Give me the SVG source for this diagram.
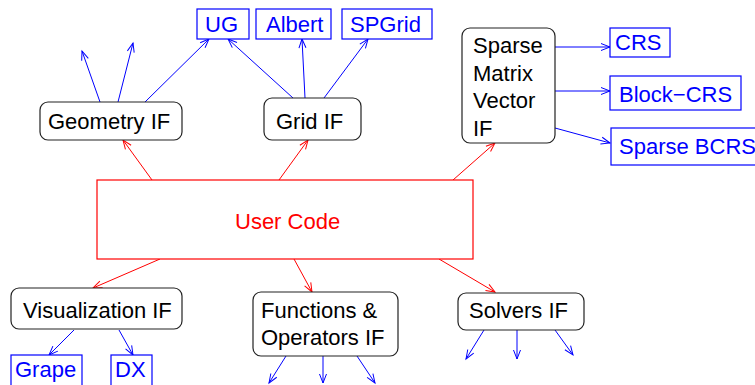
<svg xmlns="http://www.w3.org/2000/svg" width="755" height="385" viewBox="0 0 755 385">
<defs>
<marker id="ab" markerUnits="userSpaceOnUse" markerWidth="12" markerHeight="10" refX="9" refY="3.5" orient="auto" overflow="visible"><path d="M0,0 L9,3.5 L0,7" fill="none" stroke="#0000ff" stroke-width="1"/></marker>
<marker id="ar" markerUnits="userSpaceOnUse" markerWidth="12" markerHeight="10" refX="9" refY="3.5" orient="auto" overflow="visible"><path d="M0,0 L9,3.5 L0,7" fill="none" stroke="#ff0000" stroke-width="1"/></marker>
<style>
text{font-family:"Liberation Sans",Arial,sans-serif;font-size:22px}
.n{fill:#fff;stroke:#222;stroke-width:1.2}
.b{fill:#fff;stroke:#0000ff;stroke-width:1.2}
.bt{fill:#0000ff}
.k{fill:#000}
.bl{stroke:#0000ff;stroke-width:1;fill:none;marker-end:url(#ab)}
.rl{stroke:#ff0000;stroke-width:1;fill:none;marker-end:url(#ar)}
</style>
</defs>
<g id="connectors">
<line class="rl" x1="152" y1="180" x2="123" y2="140"/>
<line class="rl" x1="279" y1="180" x2="308" y2="140"/>
<line class="rl" x1="453" y1="180" x2="495" y2="143"/>
<line class="rl" x1="160" y1="259" x2="93" y2="288"/>
<line class="rl" x1="294" y1="259" x2="312" y2="292"/>
<line class="rl" x1="439" y1="259" x2="495" y2="292"/>
<line class="bl" x1="100" y1="102" x2="82" y2="51"/>
<line class="bl" x1="118" y1="102" x2="133" y2="43"/>
<line class="bl" x1="145" y1="102" x2="209" y2="39"/>
<line class="bl" x1="293" y1="98" x2="228" y2="39"/>
<line class="bl" x1="305" y1="98" x2="302" y2="39"/>
<line class="bl" x1="324" y1="98" x2="368" y2="39"/>
<line class="bl" x1="555" y1="47" x2="610" y2="47"/>
<line class="bl" x1="555" y1="91" x2="610" y2="91"/>
<line class="bl" x1="555" y1="128" x2="610" y2="143"/>
<line class="bl" x1="74" y1="330" x2="49" y2="355"/>
<line class="bl" x1="119" y1="330" x2="133" y2="355"/>
<line class="bl" x1="286" y1="356" x2="269" y2="383"/>
<line class="bl" x1="323" y1="356" x2="323" y2="383"/>
<line class="bl" x1="357" y1="356" x2="375" y2="383"/>
<line class="bl" x1="484" y1="330" x2="466" y2="359"/>
<line class="bl" x1="517" y1="330" x2="517" y2="359"/>
<line class="bl" x1="555" y1="330" x2="573" y2="355"/>
</g>
<g id="user-code">
<rect x="97" y="180" width="376" height="79" fill="#fff" stroke="#ff0000" stroke-width="1.2"/>
<text x="235" y="229" fill="#ff0000">User Code</text>
</g>
<g id="geometry-if">
<rect class="n" x="40" y="102" width="142" height="38" rx="8"/>
<text class="k" x="48" y="129">Geometry IF</text>
</g>
<g id="grid-if">
<rect class="n" x="264" y="98" width="97" height="42" rx="8"/>
<text class="k" x="276" y="129">Grid IF</text>
</g>
<g id="sparse-if">
<rect class="n" x="462" y="28" width="93" height="115" rx="8"/>
<text class="k" x="473" y="53">Sparse</text>
<text class="k" x="473" y="80.5">Matrix</text>
<text class="k" x="473" y="108">Vector</text>
<text class="k" x="473" y="135.5">IF</text>
</g>
<g id="visualization-if">
<rect class="n" x="11" y="288" width="171" height="41" rx="8"/>
<text class="k" x="23" y="318">Visualization IF</text>
</g>
<g id="functions-if">
<rect class="n" x="253" y="292" width="145" height="64" rx="8"/>
<text class="k" x="261" y="318">Functions &amp;</text>
<text class="k" x="261" y="345">Operators IF</text>
</g>
<g id="solvers-if">
<rect class="n" x="458" y="293" width="126" height="37" rx="8"/>
<text class="k" x="469" y="318">Solvers IF</text>
</g>
<g id="ug"><rect class="b" x="197" y="9" width="52" height="30"/><text class="bt" x="205" y="32">UG</text></g>
<g id="albert"><rect class="b" x="256" y="9" width="75" height="30"/><text class="bt" x="266" y="32">Albert</text></g>
<g id="spgrid"><rect class="b" x="342" y="9" width="90" height="30"/><text class="bt" x="350" y="32">SPGrid</text></g>
<g id="crs"><rect class="b" x="610" y="28" width="60" height="29"/><text class="bt" x="615" y="50">CRS</text></g>
<g id="block-crs"><rect class="b" x="610" y="76" width="131" height="34"/><text class="bt" x="619" y="102">Block−CRS</text></g>
<g id="sparse-bcrs"><rect class="b" x="611" y="128" width="160" height="37"/><text class="bt" x="619" y="154">Sparse BCRS</text></g>
<g id="grape"><rect class="b" x="11" y="355" width="71" height="40"/><text class="bt" x="15" y="377">Grape</text></g>
<g id="dx"><rect class="b" x="111" y="355" width="41" height="40"/><text class="bt" x="115" y="377">DX</text></g>
</svg>
